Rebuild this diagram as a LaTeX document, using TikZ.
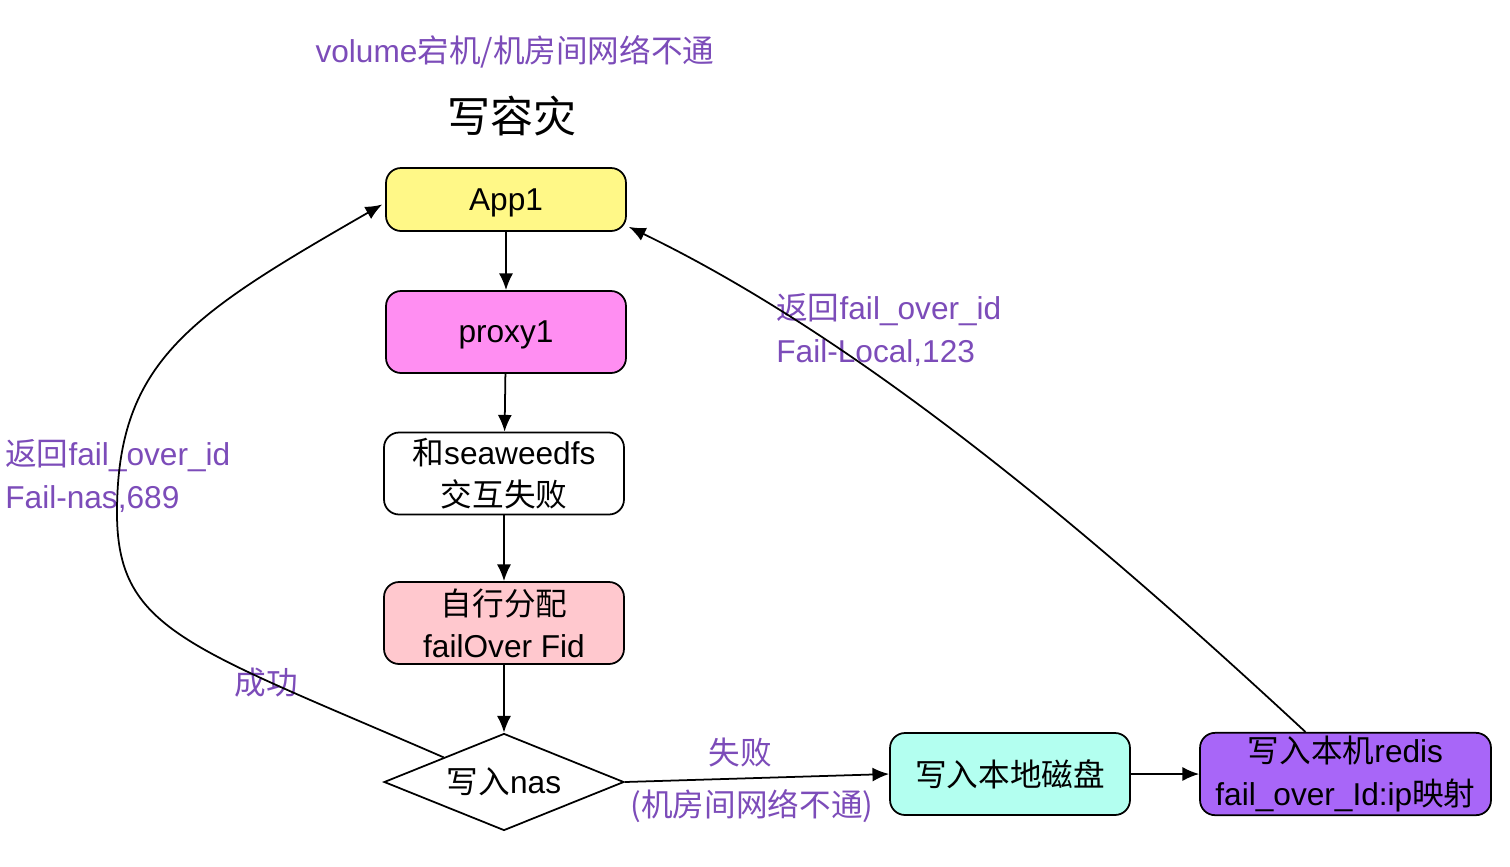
\documentclass[tikz,border=0pt]{standalone}
\usepackage{fontspec}
\setmainfont{Liberation Sans}
\newfontfamily\cjk{Noto Sans CJK SC}
\usepackage{xcolor}
\usetikzlibrary{positioning,arrows.meta,shapes,calc}
\definecolor{appyellow}{HTML}{FFF887}
\definecolor{proxypink}{HTML}{FF8EF2}
\definecolor{allocpink}{HTML}{FFC8CE}
\definecolor{diskcyan}{HTML}{B3FFF0}
\definecolor{redispurple}{HTML}{A866F8}
\definecolor{notepurple}{HTML}{7C4CB9}
\newcommand{\nodefont}{\fontsize{18}{24}\selectfont}
\tikzset{
	box/.style={draw=black, line width=1pt, rounded corners=0.3cm, minimum width=4.8cm, minimum height=1.64cm, align=center, inner sep=2pt, font=\nodefont},
	decision/.style={diamond, draw=black, line width=1pt, minimum width=4.8cm, minimum height=1.94cm, aspect=2.5, inner sep=0pt, font=\nodefont},
	note/.style={text=notepurple, inner sep=0pt, font=\nodefont},
	flow/.style={-{Latex[length=9.5pt,width=8pt]}, line width=1pt}
}

\begin{document}
\begin{tikzpicture}[x=0.02cm, y=-0.02cm]
	\useasboundingbox (0,0) rectangle (1510,866);
	% titles
	\node[note] (title) at (515,52) {volume{\cjk 宕机/机房间网络不通}};
	\node[inner sep=0pt, font=\fontsize{24.5}{28}\selectfont] (heading) at (512,116) {\cjk 写容灾};
	% main column
	\node[box, fill=appyellow, minimum height=1.26cm, text depth=0pt] (app) at (506,199.5) {App1};
	\node[box, fill=proxypink, text depth=0pt] (proxy) at (506,332) {proxy1};
	\node[box, fill=white] (seaweed) at (504,473.5) {{\cjk 和}seaweedfs\\{\cjk 交互失败}};
	\node[box, fill=allocpink] (alloc) at (504,623) {{\cjk 自行分配}\\failOver Fid};
	\node[decision] (nas) at (504,782) {{\cjk 写入}nas};
	\node[box, fill=diskcyan] (disk) at (1010,774) {\cjk 写入本地磁盘};
	\node[box, fill=redispurple, minimum width=5.82cm] (redis) at (1345.5,774) {{\cjk 写入本机}redis\\fail\_over\_Id:ip{\cjk 映射}};
	% labels
	\node[note, anchor=west, align=left] (lblnas) at (5,476) {{\cjk 返回}fail\_over\_id\\Fail-nas,689};
	\node[note, anchor=west, align=left] (lbllocal) at (776,330) {{\cjk 返回}fail\_over\_id\\Fail-Local,123};
	\node[note] (lblok) at (266,683) {\cjk 成功};
	\node[note] (lblfail) at (740,752) {\cjk 失败};
	\node[note] (lblnet) at (752,806) {\cjk (机房间网络不通)};

	\draw[flow] (app) -- (proxy);
	\draw[flow] (proxy) -- (seaweed);
	\draw[flow] (seaweed) -- (alloc);
	\draw[flow] (alloc) -- (nas);
	\draw[flow] (nas.east) -- (disk.west);
	\draw[flow] (disk) -- (redis);
	\draw[flow] (nas.north west) .. controls (185,645) and (116,630) .. (117,510)
		.. controls (118,360) and (192,314) .. ($(app.west)+(-3,5)$);
	\draw[flow] ($(redis.north)+(-40,0)$) .. controls (1122,562) and (879,348) .. ($(app.south east)+(2,-5)$);
\end{tikzpicture}
\end{document}
